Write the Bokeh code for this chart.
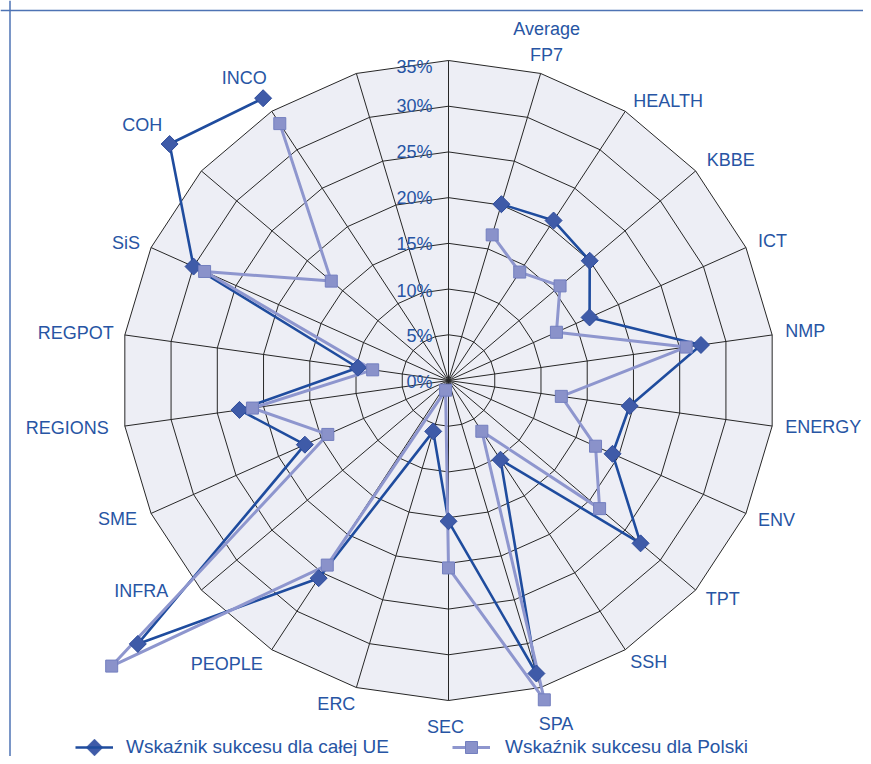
import numpy as np
from bokeh.plotting import figure
from bokeh.models import ColumnDataSource, Span, Legend, LegendItem, PolyAnnotation
from bokeh.core.properties import value
from bokeh.embed import file_html
from bokeh.resources import INLINE

# ---------------- data ----------------
categories = ["", "Average\nFP7", "HEALTH", "KBBE", "ICT", "NMP", "ENERGY", "ENV", "TPT", "SSH",
              "SPA", "SEC", "ERC", "PEOPLE", "INFRA", "SME", "REGIONS", "REGPOT", "SiS", "COH",
              "INCO", ""]
eu_values = [None, 20.1, 20.8, 20.0, 16.6, 27.3, 19.6, 19.3, 27.2, 10.3,
             33.4, 15.4, 5.8, 25.7, 44.0, 16.9, 22.6, 9.8, 30.0, 39.5,
             36.7, None]
pl_values = [None, 16.6, 14.1, 15.8, 12.7, 25.7, 12.2, 17.3, 21.4, 6.6,
             36.4, 20.5, 1.1, 24.0, 47.7, 14.2, 21.2, 8.2, 28.7, 16.6,
             33.4, None]
ticks = [0, 5, 10, 15, 20, 25, 30, 35]
tick_labels = ["0%", "5%", "10%", "15%", "20%", "25%", "30%", "35%"]
series_names = ["Wskaźnik sukcesu dla całej UE", "Wskaźnik sukcesu dla Polski"]

# ---------------- layout / style ----------------
W, H = 863, 756
PX_X = 327.0 / 35.0      # pixels per percent, horizontal
PX_Y = 320.0 / 35.0      # pixels per percent, vertical
CX, CY = 448.0, 380.0    # centre in frame pixels (from left / top)
x0, x1 = -CX / PX_X, (W - CX) / PX_X
y1, y0 = CY / PX_Y, -(H - CY) / PX_Y

TXT = "#2755A4"
FONT_NAME = "Liberation Sans"
FONT = value(FONT_NAME)
EU_LINE = "#1F4C9E"
EU_FILL = "#3F5BA8"
EU_EDGE = "#2C4A9A"
PL_LINE = "#8E96CE"
PL_FILL = "#8A92CA"
PL_EDGE = "#737FBF"

# label offsets (screen px) relative to outer vertex
label_dx = [0, 6, 8, 11, 12, 13, 13, 12, 10, 5, -2, -3, -1, -9, -33, -14, -16, -11, -11, -39, -5, 0]
label_dy = [0, -8, -10.5, -10.5, -6.5, -4, 1, 6.5, 9, 12.5, 36.5, 26.5, 16.5, 14.5, 1, 5.5, 2, -2, -4.5, -45.5, -33.5, 0]
tick_dy = [1, 1.5, 2, 1, 0.5, 0, 0, 6]

p = figure(width=W, height=H, x_range=(x0, x1), y_range=(y0, y1),
           output_backend="svg", toolbar_location=None,
           x_axis_location=None, y_axis_location=None,
           min_border=0, outline_line_color=None,
           background_fill_color="white", border_fill_color="white")
p.grid.visible = False

n = len(categories)
theta = 2 * np.pi * np.arange(n) / n
s, c = np.sin(theta), np.cos(theta)
rmax = ticks[-1]

# grid background
p.patch(list(rmax * np.append(s, s[0])), list(rmax * np.append(c, c[0])),
        fill_color="#EDEEF5", line_color=None)
# rings
ring_xs = [list(t * np.append(s, s[0])) for t in ticks[1:]]
ring_ys = [list(t * np.append(c, c[0])) for t in ticks[1:]]
p.multi_line(ring_xs, ring_ys, line_color="#262626", line_width=1)
# spokes
p.segment(x0=[0] * n, y0=[0] * n, x1=list(rmax * s), y1=list(rmax * c),
          line_color="#262626", line_width=1)

# series
eu = np.array([np.nan if v is None else v for v in eu_values], dtype=float)
pl = np.array([np.nan if v is None else v for v in pl_values], dtype=float)
src = ColumnDataSource(dict(ex=eu * s, ey=eu * c, px=pl * s, py=pl * c))

eu_line = p.line("ex", "ey", source=src, line_color=EU_LINE, line_width=2.6)
pl_line = p.line("px", "py", source=src, line_color=PL_LINE, line_width=3)
eu_pts = p.scatter("ex", "ey", source=src, marker="square", angle=np.pi / 4, size=12,
                   fill_color=EU_FILL, line_color=EU_EDGE, line_width=1)
pl_pts = p.scatter("px", "py", source=src, marker="square", size=12,
                   fill_color=PL_FILL, line_color=PL_EDGE, line_width=1)

# category labels
def lab_src(idx):
    return ColumnDataSource(dict(
        x=[rmax * s[i] for i in idx], y=[rmax * c[i] for i in idx],
        t=[categories[i] for i in idx],
        dx=[label_dx[i] for i in idx], dy=[label_dy[i] for i in idx]))

left_idx = [i for i in range(2, 11) if categories[i]]
right_idx = [i for i in range(12, n) if categories[i]]
for idx, align in ((left_idx, "left"), (right_idx, "right"), ([11], "center")):
    p.text("x", "y", text="t", x_offset="dx", y_offset="dy", source=lab_src(idx),
           text_align=align, text_baseline="alphabetic", text_font=FONT,
           text_font_size="18px", text_color=TXT)
p.text("x", "y", text="t", x_offset="dx", y_offset="dy", source=lab_src([1]),
       text_align="center", text_baseline="bottom", text_font=FONT,
       text_font_size="18px", text_color=TXT, text_line_height=1.3)

# radial tick labels
tsrc = ColumnDataSource(dict(x=[0] * len(ticks), y=ticks, t=tick_labels, dy=tick_dy))
p.text("x", "y", text="t", y_offset="dy", x_offset=-16, source=tsrc,
       text_align="right", text_baseline="alphabetic", text_font=FONT,
       text_font_size="18px", text_color=TXT)

# frame lines (top / left)
p.add_layout(Span(location=y1 - 10.0 / PX_Y, dimension="width", line_color="#4E73B4", line_width=1.5))
p.add_layout(Span(location=x0 + 9.5 / PX_X, dimension="height", line_color="#4E73B4", line_width=1.5))

# legends
LEG_Y = -6
common = dict(orientation="horizontal", glyph_width=38, glyph_height=30, padding=0, margin=0,
              spacing=0, background_fill_alpha=0, border_line_color=None,
              label_text_font=FONT_NAME, label_text_font_size="19px", label_text_color=TXT)
leg1 = Legend(items=[LegendItem(label=series_names[0], renderers=[eu_line])],
              location=(75, LEG_Y), label_standoff=13, **common)
leg2 = Legend(items=[LegendItem(label=series_names[1], renderers=[pl_line, pl_pts])],
              location=(452, LEG_Y), label_standoff=15, **common)
p.add_layout(leg1)
p.add_layout(leg2)

# diamond key for the EU legend entry (screen units, legend decoration)
kx, ky, kr = 75 + 19, LEG_Y + 15, 8.5
p.add_layout(PolyAnnotation(xs=[kx - kr, kx, kx + kr, kx], ys=[ky, ky + kr, ky, ky - kr],
                            xs_units="screen", ys_units="screen",
                            fill_color=EU_FILL, fill_alpha=1.0,
                            line_color=EU_EDGE, line_width=1))

open("out.html", "w").write(file_html(p, INLINE))
